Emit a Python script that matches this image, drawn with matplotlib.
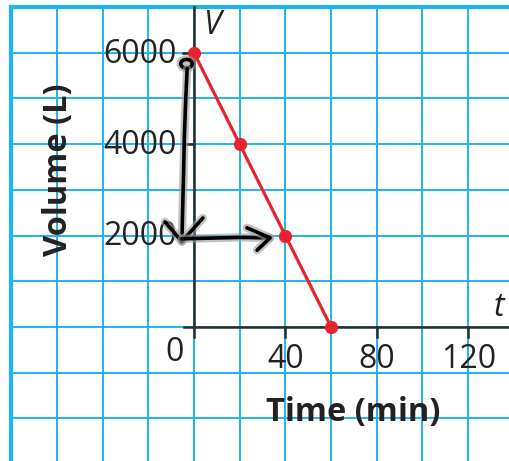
import matplotlib.pyplot as plt
import matplotlib.patheffects as pe
from matplotlib.patches import Ellipse

# data
time_min = [0, 20, 40, 60]
volume_l = [6000, 4000, 2000, 0]
x_ticks = [40, 80, 120]
y_ticks = [2000, 4000, 6000]

grid_blue = '#1EB4EC'
red = '#E8232D'
ink = '#2B2B2B'

plt.rcParams['font.family'] = ['Open Sans', 'DejaVu Sans']

fig = plt.figure(figsize=(5.1, 4.61), dpi=100)
ax = fig.add_axes([0, 0, 1, 1])
ax.set_xlim(-84.9, 138.3)
ax.set_ylim(-2932, 7155)
ax.axis('off')

# graph paper
for gx in range(-60, 140, 20):
    ax.plot([gx, gx], [-2932, 7000], color=grid_blue, lw=1.4, zorder=1)
for gy in range(-2000, 7000, 1000):
    ax.plot([-80, 138.3], [gy, gy], color=grid_blue, lw=1.4, zorder=1)
ax.plot([-80, -80], [-2932, 7000], color=grid_blue, lw=3, zorder=1)
ax.plot([-80, 138.3], [7000, 7000], color=grid_blue, lw=3, zorder=1)

# axes
ax.plot([0, 0], [-220, 7000], color=ink, lw=1.8, zorder=3)
ax.plot([-4.4, 138.3], [0, 0], color=ink, lw=1.8, zorder=3)
for yt in y_ticks:
    ax.plot([-4.8, 0], [yt, yt], color=ink, lw=1.8, zorder=3)
    ax.text(-7.6, yt - 30, str(yt), ha='right', va='center', fontsize=23, color='#222')
for xt in x_ticks:
    ax.plot([xt, xt], [0, -220], color=ink, lw=1.8, zorder=3)
    ax.text(xt, -720, str(xt), ha='center', va='center', fontsize=23, color='#222')
ax.text(-8.3, -560, '0', ha='center', va='center', fontsize=23, color='#222')

ax.text(7.6, 6600, 'V', ha='center', va='center', fontsize=23, style='italic', color='#222')
ax.text(133.5, 430, 't', ha='center', va='center', fontsize=23, style='italic', color='#222')
ax.text(69.6, -1870, 'Time (min)', ha='center', va='center', fontsize=23.5,
        fontweight='bold', color='#222')
ax.text(-59.5, 3450, 'Volume (L)', ha='center', va='center', fontsize=23.5,
        fontweight='bold', rotation=90, color='#222')

# the line
ax.plot(time_min, volume_l, color=red, lw=2.3, marker='o', ms=8.5, zorder=4)

# handwritten marks
halo = [pe.withStroke(linewidth=6, foreground='#9a9a9a', alpha=0.6)]
hw = dict(color='black', lw=2.6, path_effects=halo, zorder=5,
          solid_capstyle='round', solid_joinstyle='round')
ax.add_patch(Ellipse((-3.3, 5760), 5.0, 190, fill=False, ec='black', lw=2.6,
                     path_effects=halo, zorder=5))
ax.plot([-3.0, -3.6, -4.2, -4.6, -5.0, -5.3], [5650, 5000, 4200, 3300, 2500, 1870], **hw)
ax.plot([-12.7, -5.3, 3.9], [2300, 1870, 2385], **hw)
ax.plot([-5.3, 20, 33.3], [1930, 1960, 1950], **hw)
ax.plot([23.2, 33.3, 27.6], [2170, 1950, 1680], **hw)

fig.savefig('out.png', dpi=100)
